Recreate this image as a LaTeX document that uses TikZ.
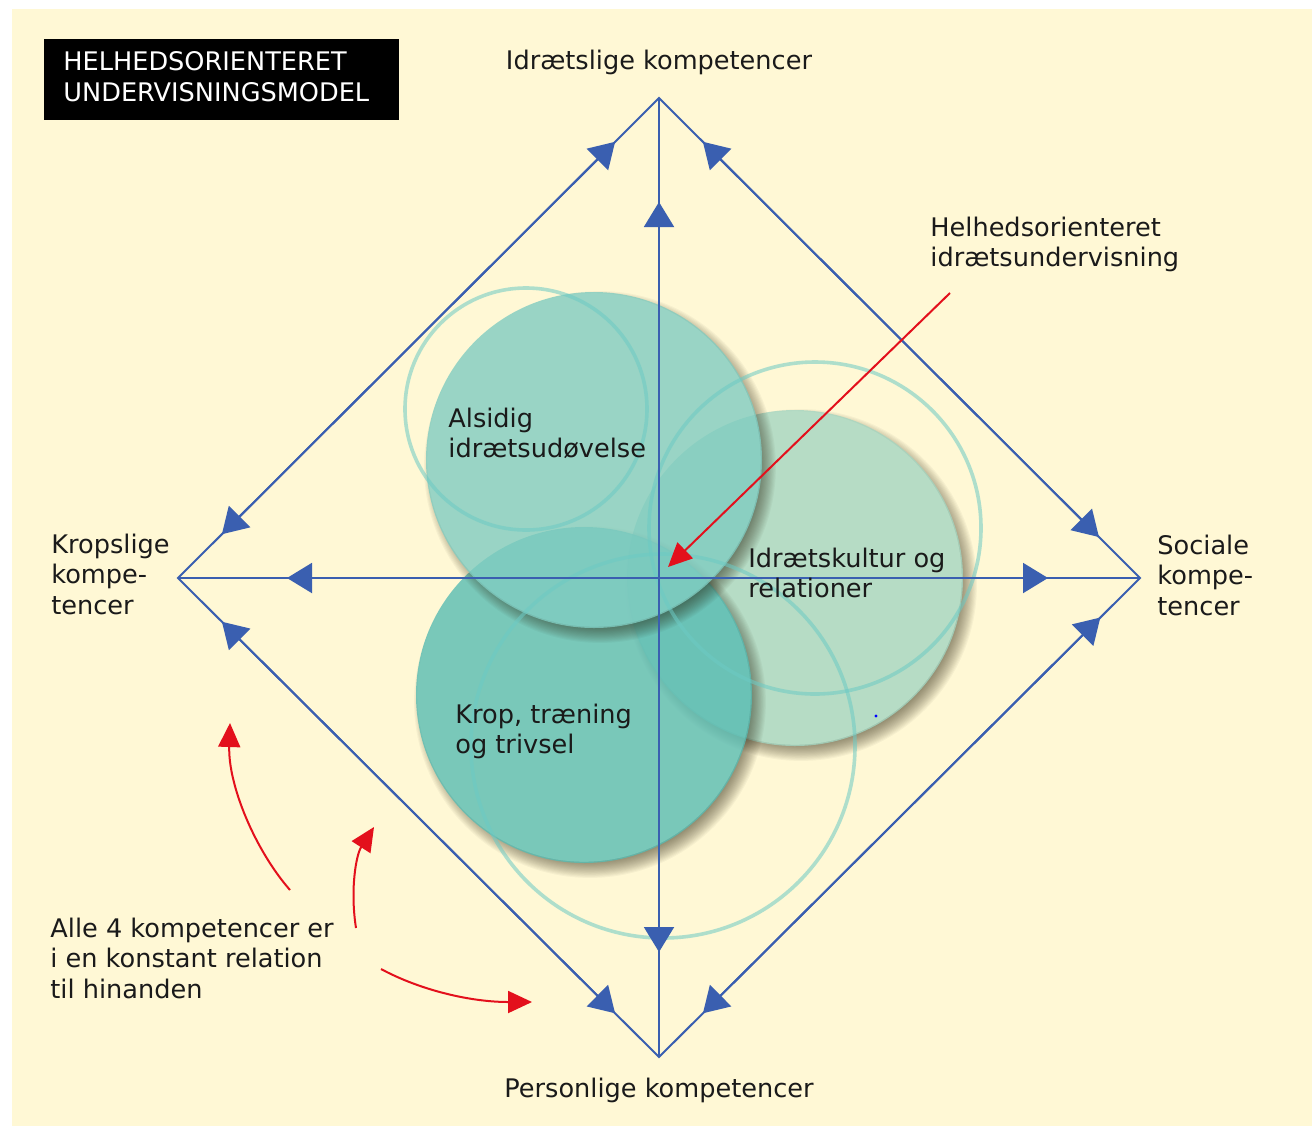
\documentclass[tikz,border=0pt]{standalone}
\usepackage{fontspec}
\setmainfont{DejaVu Sans}
\usetikzlibrary{arrows.meta,calc}
\definecolor{cream}{HTML}{FFF8D5}
\definecolor{lineblue}{HTML}{3A5FB0}
\definecolor{arrred}{HTML}{E3101C}
\definecolor{cA}{HTML}{80CCC1}
\definecolor{cB}{HTML}{A4D6C2}
\definecolor{cC}{HTML}{58BCB3}
\definecolor{ringcol}{HTML}{6CCAC4}
\definecolor{shadcol}{HTML}{2A2410}
\definecolor{txt}{HTML}{1A1A1A}
\newcommand{\mlines}[1]{\begin{tabular}[t]{@{}l@{}}#1\end{tabular}}
\newcommand{\fsz}{\fontsize{12.8}{15.3}\selectfont}
\newcommand{\softshadow}[1]{%
  \begin{scope}[even odd rule]
    \clip (0,0) rectangle (1312,1126) (#1) circle[radius=83.4pt];
    \foreach \i in {1,...,16} {
      \fill[shadcol, fill opacity=0.038] ($(#1)+(6,7)$) circle[radius={88.5pt-\i*0.55pt}];
    }
  \end{scope}}
\begin{document}
\begin{tikzpicture}[x=0.5pt,y=-0.5pt,
  lbl/.style={font=\fsz, text=txt, inner sep=0pt, anchor=base west},
  clbl/.style={font=\fsz, text=txt, inner sep=0pt, anchor=base},
  edge/.style={draw=lineblue, line width=1pt},
  tipb/.style={-{Triangle[length=12.5pt,width=15pt]}, draw=lineblue, line width=1pt},
  redarr/.style={-{Triangle[length=12pt,width=11pt]}, draw=arrred, line width=1pt},
  disk/.style={fill opacity=0.8},
  ring/.style={draw=ringcol, line width=1.8pt, draw opacity=0.55}
]
\useasboundingbox (0,0) rectangle (1312,1126);
\fill[white] (0,0) rectangle (1312,1126);
\fill[cream] (12,9) rectangle (1312,1126);

% circle centres
\coordinate (cb) at (795,578);
\coordinate (ck) at (584,695);
\coordinate (ca) at (594,460);

% Idraetskultur circle
\softshadow{cb}
\fill[cB, disk] (cb) circle[radius=84pt];
% Krop circle
\softshadow{ck}
\fill[cC, disk] (ck) circle[radius=84pt];
% Alsidig circle
\softshadow{ca}
\fill[cA, disk] (ca) circle[radius=84pt];

% rings
\draw[ring] (526,409) circle[radius=60.5pt];
\draw[ring] (815,528) circle[radius=83pt];
\draw[ring] (663,746) circle[radius=96pt];

% diamond
\coordinate (T) at (659,98);
\coordinate (B) at (659,1057);
\coordinate (L) at (178,578);
\coordinate (R) at (1140,578);
\coordinate (C) at (659,578);
\draw[edge] (L) -- (T) -- (R) -- (B) -- cycle;
\draw[edge] (T) -- (B);
\draw[edge] (L) -- (R);

% edge arrows (pointing to vertices)
\draw[tipb, shorten >=31pt] ($(L)!0.5!(T)$) -- (T);
\draw[tipb, shorten >=31pt] ($(R)!0.5!(T)$) -- (T);
\draw[tipb, shorten >=31pt] ($(L)!0.5!(T)$) -- (L);
\draw[tipb, shorten >=31pt] ($(L)!0.5!(B)$) -- (L);
\draw[tipb, shorten >=29pt] ($(R)!0.5!(T)$) -- (R);
\draw[tipb, shorten >=28pt] ($(R)!0.5!(B)$) -- (R);
\draw[tipb, shorten >=31pt] ($(L)!0.5!(B)$) -- (B);
\draw[tipb, shorten >=31pt] ($(R)!0.5!(B)$) -- (B);
% axis arrows
\draw[tipb, shorten >=52pt] (C) -- (T);
\draw[tipb, shorten >=52.5pt] (C) -- (B);
\draw[tipb, shorten >=54.5pt] (C) -- (L);
\draw[tipb, shorten >=46pt] (C) -- (R);

% tiny dot
\fill[blue] (876,716) circle[radius=0.8pt];

% title box
\node (title) [fill=black, text=white, font=\fsz, anchor=north west, inner xsep=9.5pt, inner ysep=0pt,
  minimum width=177.5pt, minimum height=40.5pt, text width=158.5pt, align=left]
  at (44,39) {\mlines{HELHEDSORIENTERET\\UNDERVISNINGSMODEL}};

% labels
\node (ltop) [clbl] at (659,69) {Idrætslige kompetencer};
\node (lbot) [clbl] at (659,1097) {Personlige kompetencer};
\node (lleft) [lbl] at (51,553) {\mlines{Kropslige\\kompe-\\tencer}};
\node (lright) [lbl] at (1157,554) {\mlines{Sociale\\kompe-\\tencer}};
\node (lhel) [lbl] at (930,236) {\mlines{Helhedsorienteret\\idrætsundervisning}};
\node (la) [lbl] at (448,427) {\mlines{Alsidig\\idrætsudøvelse}};
\node (lb) [lbl] at (748,567) {\mlines{Idrætskultur og\\relationer}};
\node (lk) [lbl] at (455,723) {\mlines{Krop, træning\\og trivsel}};
\node (lalle) [lbl] at (50,937) {\mlines{Alle 4 kompetencer er\\i en konstant relation\\til hinanden}};

% red arrows
\coordinate (rs) at (950,293);
\coordinate (rt) at (668,567);
\draw[redarr] (rs) -- (rt);
\coordinate (c1s) at (290,890);
\coordinate (c1t) at (230,723);
\draw[redarr] (c1s) .. controls (255,850) and (228,785) .. (c1t);
\coordinate (c2s) at (356,928);
\coordinate (c2t) at (374,827);
\draw[redarr] (c2s) .. controls (350,890) and (356,855) .. (c2t);
\coordinate (c3s) at (381,969);
\coordinate (c3t) at (532,1002);
\draw[redarr] (c3s) .. controls (420,990) and (470,1002) .. (c3t);
\end{tikzpicture}
\end{document}
